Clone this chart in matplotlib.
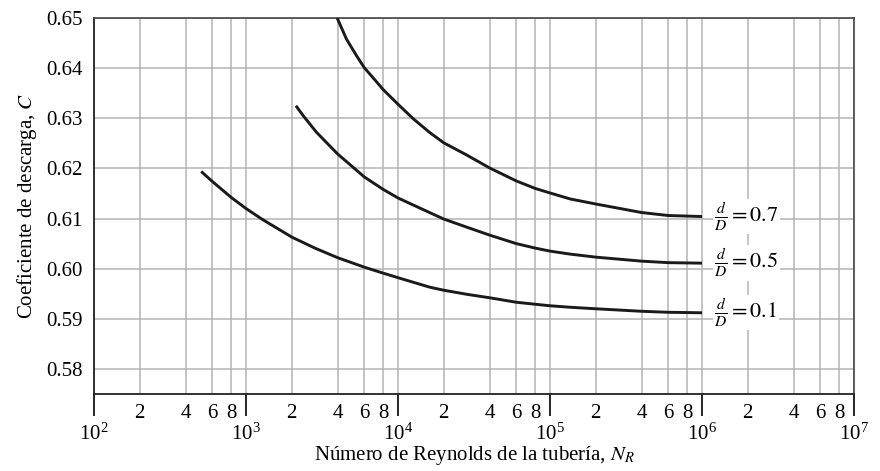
import numpy as np
import matplotlib
matplotlib.use("Agg")
import matplotlib.pyplot as plt
from matplotlib.ticker import LogLocator, FuncFormatter, LogFormatterMathtext, MultipleLocator

plt.rcParams['font.family'] = ['Liberation Serif', 'DejaVu Serif']
plt.rcParams['mathtext.fontset'] = 'stix'

# values
re_01 = [5.07e2, 6e2, 8e2, 1e3, 1.27e3, 2e3, 2.84e3, 4e3, 6e3, 8e3, 1e4,
         1.62e4, 2e4, 2.82e4, 4e4, 6e4, 8e4, 1e5, 1.36e5, 2e5, 4e5, 6e5, 1e6]
c_01 = [0.6194, 0.6174, 0.6142, 0.6120, 0.6099, 0.6063, 0.6041, 0.6022, 0.6003,
        0.5991, 0.5982, 0.5963, 0.5957, 0.5949, 0.5942, 0.5933, 0.5929, 0.5926,
        0.5923, 0.5920, 0.5915, 0.5913, 0.5912]

re_05 = [2.13e3, 2.38e3, 2.91e3, 4e3, 6e3, 8e3, 1e4, 1.46e4, 2e4, 2.82e4,
         4e4, 6e4, 8e4, 1e5, 1.36e5, 2e5, 4e5, 6e5, 1e6]
c_05 = [0.6325, 0.6305, 0.6272, 0.6229, 0.6183, 0.6158, 0.6141, 0.6118, 0.6099,
        0.6083, 0.6067, 0.6050, 0.6041, 0.6035, 0.6029, 0.6023, 0.6015, 0.6012, 0.6011]

re_07 = [3.98e3, 4.58e3, 5.33e3, 6e3, 7.21e3, 8e3, 1e4, 1.26e4, 1.61e4, 2e4, 2.82e4,
         4e4, 6e4, 8e4, 1e5, 1.36e5, 2e5, 4e5, 6e5, 1e6]
c_07 = [0.6500, 0.6458, 0.6425, 0.6401, 0.6373, 0.6357, 0.6328, 0.6299, 0.6272,
        0.6251, 0.6227, 0.6201, 0.6175, 0.6160, 0.6151, 0.6139, 0.6129, 0.6112,
        0.6106, 0.6104]

ratios = ["0.1", "0.5", "0.7"]

fig = plt.figure(figsize=(8.8, 4.71), dpi=100)
ax = fig.add_axes([94/880, 77/471, 760/880, 376/471])

for xs, ys, r in zip([re_01, re_05, re_07], [c_01, c_05, c_07], ratios):
    ax.plot(xs, ys, color='#1a1a1a', lw=2.1, solid_capstyle='butt',
            solid_joinstyle='round', zorder=3)
    ax.text(xs[-1] * 1.2, ys[-1], r"$\frac{d}{D} = %s$" % r, fontsize=16,
            va='center', ha='left', zorder=4,
            bbox=dict(facecolor='white', edgecolor='none', pad=1))

ax.set_xscale('log')
ax.set_xlim(1e2, 1e7)
ax.set_ylim(0.575, 0.65)

ax.xaxis.set_major_locator(LogLocator(base=10, numticks=10))
ax.xaxis.set_major_formatter(LogFormatterMathtext())
ax.xaxis.set_minor_locator(LogLocator(base=10, subs=[2, 4, 6, 8], numticks=20))
ax.xaxis.set_minor_formatter(FuncFormatter(lambda v, p: "%d" % round(v / 10 ** np.floor(np.log10(v) + 1e-9))))
ax.yaxis.set_major_locator(MultipleLocator(0.01))
ax.yaxis.set_major_formatter(FuncFormatter(lambda v, p: "%.2f" % v))

ax.tick_params(axis='x', which='major', length=16, width=1.2, pad=5, labelsize=15, direction='out')
ax.tick_params(axis='x', which='minor', length=0, pad=7, labelsize=15)
ax.tick_params(axis='y', which='major', length=0, pad=8, labelsize=15)

ax.grid(True, which='both', color='#b4b4b4', lw=1.1, zorder=0)
ax.set_axisbelow(True)

for side in ['left', 'bottom']:
    ax.spines[side].set_color('#222222')
    ax.spines[side].set_linewidth(1.3)
for side in ['top', 'right']:
    ax.spines[side].set_color('#444444')
    ax.spines[side].set_linewidth(1.2)

ax.set_ylabel("Coeficiente de descarga, $C$", fontsize=15, labelpad=5)
ax.set_xlabel("Número de Reynolds de la tubería, $N_R$", fontsize=15, labelpad=0)

fig.savefig("out.png", dpi=100)
